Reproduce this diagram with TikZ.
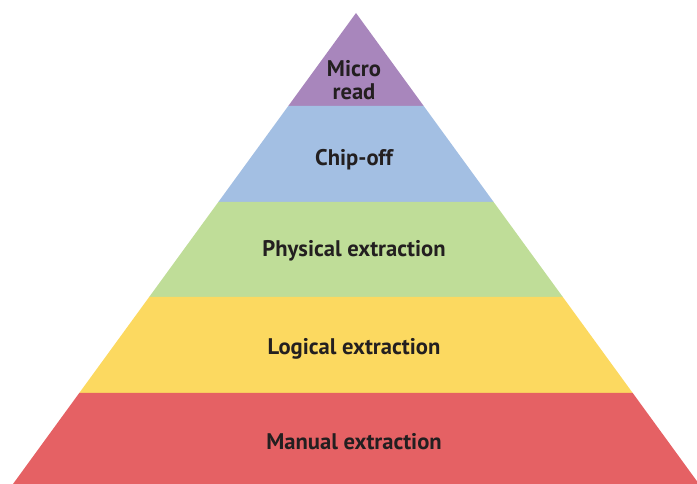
\documentclass[tikz,border=0pt]{standalone}
\usepackage{fontspec}
\setmainfont{PT Sans}
\definecolor{microc}{HTML}{A886BC}
\definecolor{chipc}{HTML}{A3BFE3}
\definecolor{physc}{HTML}{BFDD98}
\definecolor{logc}{HTML}{FCD960}
\definecolor{manc}{HTML}{E56164}
\definecolor{textc}{HTML}{231F20}
\tikzset{level label/.style={text=textc,align=center,inner sep=0pt}}
\begin{document}
\begin{tikzpicture}[x=1pt,y=1pt,line join=round,font=\bfseries\fontsize{22.6}{23}\selectfont]
				\useasboundingbox (0,0) rectangle (697,484);
				\clip (0,0) rectangle (697,484);
				\path(356,471)coordinate(T)
				(13,0)coordinate(L5)
				(699,0)coordinate(R5)
				(barycentric cs:L5=.93,T=3.78)coordinate(L1)
				(barycentric cs:R5=.93,T=3.78)coordinate(R1)
				(barycentric cs:L5=1.89,T=2.82)coordinate(L2)
				(barycentric cs:R5=1.89,T=2.82)coordinate(R2)
				(barycentric cs:L5=2.84,T=1.87)coordinate(L3)
				(barycentric cs:R5=2.84,T=1.87)coordinate(R3)
				(barycentric cs:L5=3.80,T=.91)coordinate(L4)
				(barycentric cs:R5=3.80,T=.91)coordinate(R4);
				\fill[microc] (T)--(L1)--(R1)--cycle;
				\foreach \i/\j/\c in{1/2/chipc,2/3/physc,3/4/logc,4/5/manc}\fill[\c](L\i)--(L\j)--(R\j)--(R\i)--cycle;
				\node[level label] (micro) at (354,404) {Micro\\read};
				\node[level label] (chip) at (354,324) {Chip-off};
				\node[level label] (phys) at (354,233) {Physical extraction};
				\node[level label] (logi) at (354,135) {Logical extraction};
				\node[level label] (manu) at (354,42) {Manual extraction};
		\end{tikzpicture}
\end{document}
